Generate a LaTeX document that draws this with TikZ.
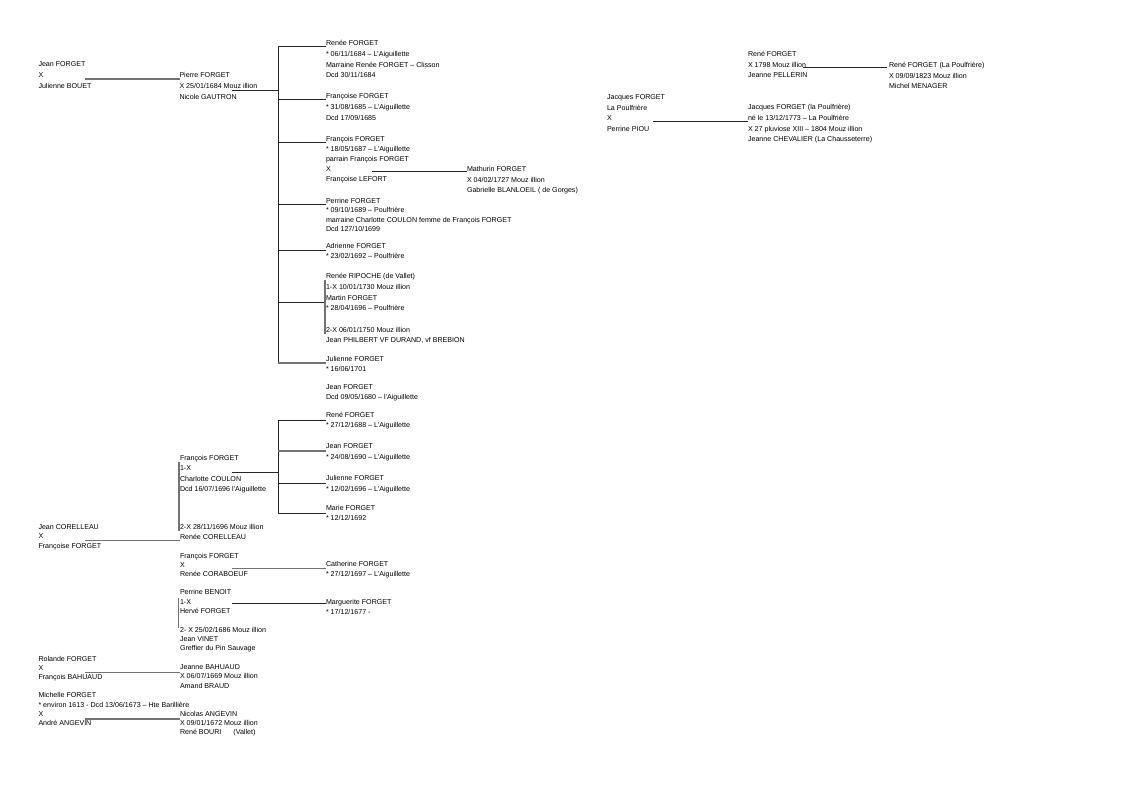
\documentclass[tikz,border=0pt]{standalone}
\usepackage{fontspec}
\setmainfont{Liberation Sans}
\usetikzlibrary{calc}
\tikzset{
  blk/.style={anchor=north west, inner sep=0pt, outer sep=0pt, align=left,
    font=\fontsize{7.1}{#1}\selectfont, yshift=-2pt},
  dk/.style={draw=black!85, line width=1pt},
  gr/.style={draw=black!55, line width=1.4pt},
}
\begin{document}
\begin{tikzpicture}[x=1pt,y=-1pt]
\useasboundingbox[fill=white] (0,0) rectangle (1123,794);
% ---------- upper family ----------
\node[blk=11] (jeanf) at (38.5,59.6) {Jean FORGET\\X\\Julienne BOUET};
\node[blk=11] (pierre) at (179.5,70.6) {Pierre FORGET\\X 25/01/1684 Mouz illion\\Nicole GAUTRON};
\node[blk=10.67] (renee) at (326,38.6) {Renée FORGET\\* 06/11/1684 – L'Aiguillette\\Marraine Renée FORGET – Clisson\\Dcd 30/11/1684};
\node[blk=11] (francoise) at (326,91.6) {Françoise FORGET\\* 31/08/1685 – L'Aiguillette\\Dcd 17/09/1685};
\node[blk=10] (francois) at (326,134.6) {François FORGET\\* 18/05/1687 – L'Aiguillette\\parrain François FORGET\\X\\Françoise LEFORT};
\node[blk=10.5] (mathurin) at (467,164.6) {Mathurin FORGET\\X 04/02/1727 Mouz illion\\Gabrielle BLANLOEIL ( de Gorges)};
\node[blk=9.5] (perrine) at (326,195.9) {Perrine FORGET\\* 09/10/1689 – Poulfrière\\marraine Charlotte COULON femme de François FORGET\\Dcd 127/10/1699};
\node[blk=10] (adrienne) at (326,241.6) {Adrienne FORGET\\* 23/02/1692 – Poulfrière};
\node[blk=10.67] (ripoche) at (326,271.6) {Renée RIPOCHE (de Vallet)\\1-X 10/01/1730 Mouz illion\\Martin FORGET\\* 28/04/1696 – Poulfrière\\[10.67pt]2-X 06/01/1750 Mouz illion\\Jean PHILBERT VF DURAND, vf BREBION};
\node[blk=10] (julienne) at (326,354.6) {Julienne FORGET\\* 16/06/1701};
\node[blk=9.5] (jeanfb) at (326,382.6) {Jean FORGET\\Dcd 09/05/1680 – l'Aiguillette};
% ---------- lower family ----------
\node[blk=10] (rene2) at (326,410.6) {René FORGET\\* 27/12/1688 – L'Aiguillette};
\node[blk=11] (jean3) at (326,441.6) {Jean FORGET\\* 24/08/1690 – L'Aiguillette};
\node[blk=11] (julienne2) at (326,473.6) {Julienne FORGET\\* 12/02/1696 – L'Aiguillette};
\node[blk=10] (marie) at (326,503.6) {Marie FORGET\\* 12/12/1692};
\node[blk=10.5] (francoisA) at (180,453.3) {François FORGET\\1-X\\Charlotte COULON\\Dcd 16/07/1696 l'Aiguillette};
\node[blk=10] (francoisB) at (180,522.3) {2-X 28/11/1696 Mouz illion\\Renée CORELLEAU};
\node[blk=9.7] (corelleau) at (38.5,522.3) {Jean CORELLEAU\\X\\Françoise FORGET};
\node[blk=9] (francois3) at (180,550.9) {François FORGET\\X\\Renée CORABOEUF};
\node[blk=10.3] (catherine) at (326,559.3) {Catherine FORGET\\* 27/12/1697 – L'Aiguillette};
\node[blk=9.5] (benoit) at (180,587.6) {Perrine BENOIT\\1-X\\Hervé FORGET};
\node[blk=9] (vinet) at (180,625.6) {2- X 25/02/1686 Mouz illion\\Jean VINET\\Greffier du Pin Sauvage};
\node[blk=10] (marguerite) at (326,597.6) {Marguerite FORGET\\* 17/12/1677 -};
\node[blk=9.2] (rolande) at (38.5,653.9) {Rolande FORGET\\X\\François BAHUAUD};
\node[blk=9.5] (bahuaud) at (180,662.6) {Jeanne BAHUAUD\\X 06/07/1669 Mouz illion\\Amand BRAUD};
\node[blk=9.3] (michelle) at (38.5,690.6) {Michelle FORGET\\* environ 1613 - Dcd 13/06/1673 – Hte Barillière\\X\\André ANGEVIN};
\node[blk=9] (nicolas) at (180,709.6) {Nicolas ANGEVIN\\X 09/01/1672 Mouz illion\\René BOURI\hspace{12pt}(Vallet)};
% ---------- right family ----------
\node[blk=10.8] (jacques) at (607,92.3) {Jacques FORGET\\La Poulfrière\\X\\Perrine PIOU};
\node[blk=10.5] (reneF) at (748,49.6) {René FORGET\\X 1798 Mouz illion\\Jeanne PELLERIN};
\node[blk=10.5] (reneLP) at (889,60.6) {René FORGET (La Poulfrière)\\X 09/09/1823 Mouz illion\\Michel MENAGER};
\node[blk=10.7] (jacques2) at (748,102.6) {Jacques FORGET (la Poulfrière)\\né le 13/12/1773 – La Poulfrière\\X 27 pluviose XIII – 1804 Mouz illion\\Jeanne CHEVALIER (La Chausseterre)};

% ---------- connectors ----------
\coordinate (c1) at ($(jeanf.north west)+(46.5,17.4)$);
\draw[gr] (c1) -- (c1 -| pierre.west);
\coordinate (c2) at ($(pierre.north west)+(52.5,18.1)$);
\coordinate (tA) at (278,47);
\coordinate (tAb) at (278,363);
\draw[dk] (c2) -- (c2 -| tA);
\draw[dk] (tA) -- (tAb);
\foreach \n in {renee,francoise,francois,perrine,adrienne}{
  \coordinate (b\n) at ($(\n.north west)+(0,6.4)$);
  \draw[dk] (tA |- b\n) -- (b\n);
}
\coordinate (bripoche) at ($(ripoche.north west)+(0,29.1)$);
\draw[dk] (tA |- bripoche) -- (bripoche);
\coordinate (bjulienne) at ($(julienne.north west)+(0,6.4)$);
\draw[gr] (tAb) -- (bjulienne);
\coordinate (c3) at ($(francois.north west)+(46,35.4)$);
\draw[dk] (c3) -- (c3 -| mathurin.west);
\coordinate (r1) at ($(ripoche.north west)+(-1,6.4)$);
\coordinate (r2) at ($(ripoche.north west)+(-1,60.4)$);
\draw[gr] (r1) -- (r2);

\coordinate (tB) at (278,420.7);
\coordinate (tBb) at (278,512.7);
\draw[dk] (tB) -- (tBb);
\foreach \n/\s in {rene2/dk,jean3/gr,julienne2/dk,marie/dk}{
  \coordinate (b\n) at ($(\n.north west)+(0,7.4)$);
  \draw[\s] (tB |- b\n) -- (b\n);
}
\coordinate (c4) at ($(francoisA.north west)+(52,17)$);
\draw[dk] (c4) -- (c4 -| tB);
\coordinate (v1) at ($(francoisA.north west)+(-1,6.4)$);
\coordinate (v2) at ($(francoisB.north west)+(-1,6.4)$);
\draw[gr] (v1) -- (v2);
\coordinate (c5) at ($(corelleau.north west)+(46.5,16.4)$);
\draw[gr] (c5) -- (c5 -| francoisB.west);
\coordinate (c6) at ($(francois3.north west)+(52,15.4)$);
\draw[gr] (c6) -- (c6 -| catherine.west);
\coordinate (v3) at ($(benoit.north west)+(-1.5,8.4)$);
\coordinate (v4) at ($(vinet.north west)+(-1.5,0.4)$);
\draw[gr] (v3) -- (v4);
\coordinate (c7) at ($(benoit.north west)+(52,13.7)$);
\draw[dk] (c7) -- (c7 -| marguerite.west);
\coordinate (c8) at ($(rolande.north west)+(46.5,16.4)$);
\draw[gr] (c8) -- (c8 -| bahuaud.west);
\coordinate (c9) at ($(michelle.north west)+(46.5,26.4)$);
\draw[gr] (c9) -- (c9 -| nicolas.west);
\coordinate (c10) at ($(jacques.north west)+(46,27.7)$);
\draw[dk] (c10) -- (c10 -| jacques2.west);
\coordinate (c11) at ($(reneF.north west)+(55,16.4)$);
\draw[dk] (c11) -- ($(c11 -| reneLP.west)+(-2,0)$);
\end{tikzpicture}
\end{document}
